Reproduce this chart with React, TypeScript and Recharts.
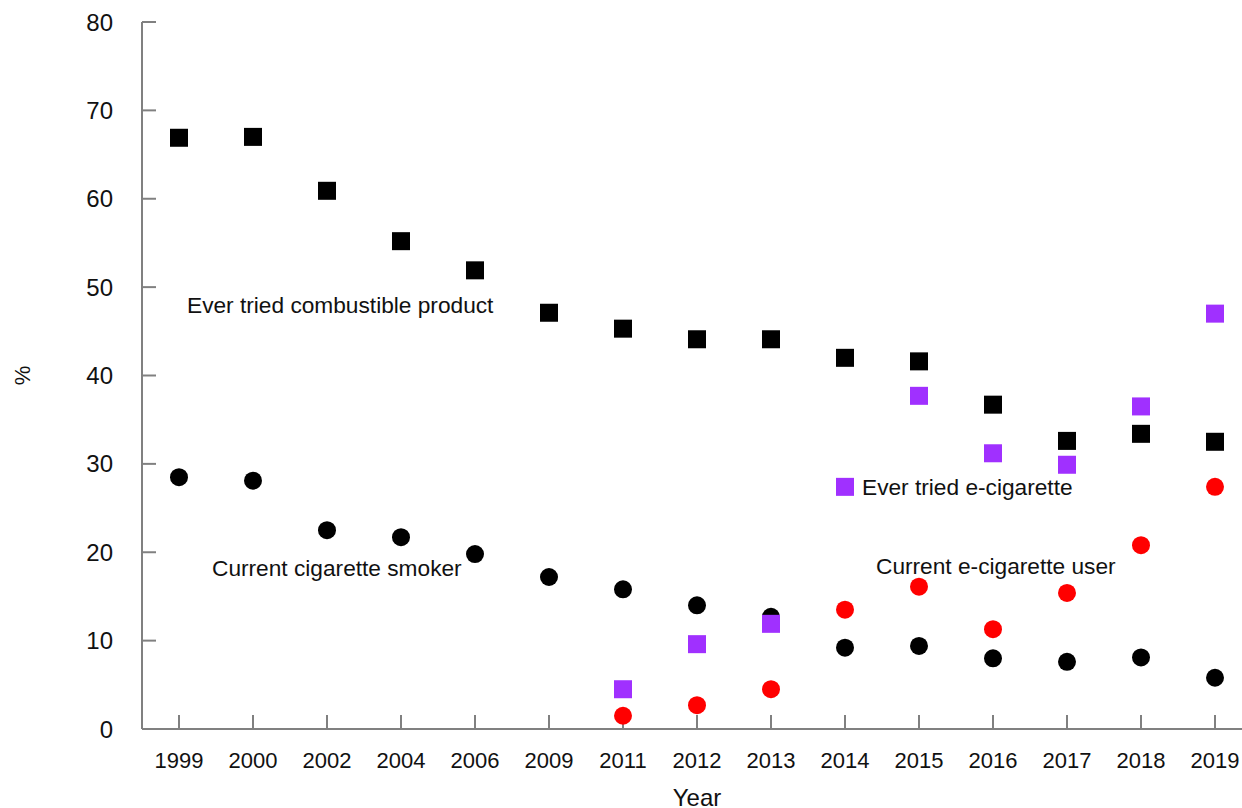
import React from 'react';
import { ComposedChart, Line, XAxis, YAxis, ReferenceDot } from 'recharts';

const years = ['1999', '2000', '2002', '2004', '2006', '2009', '2011', '2012', '2013', '2014', '2015', '2016', '2017', '2018', '2019'];
const everCombustible = [66.9, 67.0, 60.9, 55.2, 51.9, 47.1, 45.3, 44.1, 44.1, 42.0, 41.6, 36.7, 32.6, 33.4, 32.5];
const currentCigarette = [28.5, 28.1, 22.5, 21.7, 19.8, 17.2, 15.8, 14.0, 12.7, 9.2, 9.4, 8.0, 7.6, 8.1, 5.8];
const everEcig = [null, null, null, null, null, null, 4.5, 9.6, 11.9, 27.4, 37.7, 31.2, 29.9, 36.5, 47.0];
const currentEcig = [null, null, null, null, null, null, 1.5, 2.7, 4.5, 13.5, 16.1, 11.3, 15.4, 20.8, 27.4];
const yTicks = [0, 10, 20, 30, 40, 50, 60, 70, 80];

const data = years.map((year, i) => ({
  year,
  everCombustible: everCombustible[i],
  currentCigarette: currentCigarette[i],
  everEcig: everEcig[i],
  currentEcig: currentEcig[i],
}));

const FONT = 'Arial, "Liberation Sans", sans-serif';
const AXIS = '#808080';

const makeSquare = (color: string, prefix: string) => (props: any) => {
  const { cx, cy, index } = props;
  if (cx == null || cy == null || isNaN(cx) || isNaN(cy)) return <g key={`${prefix}-${index}`} />;
  const s = 18;
  return <rect key={`${prefix}-${index}`} x={cx - s / 2} y={cy - s / 2} width={s} height={s} fill={color} />;
};

const makeCircle = (color: string, prefix: string) => (props: any) => {
  const { cx, cy, index } = props;
  if (cx == null || cy == null || isNaN(cx) || isNaN(cy)) return <g key={`${prefix}-${index}`} />;
  return <circle key={`${prefix}-${index}`} cx={cx} cy={cy} r={9} fill={color} />;
};

const labelStyle = { fontSize: 22.7, fontFamily: FONT, fill: '#111' };

export default function App() {
  return (
    <div style={{ position: 'absolute', left: 0, top: 0, width: 1242, height: 808, overflow: 'hidden', background: '#fff' }}>
      <ComposedChart width={1260} height={830} data={data} margin={{ top: 22, right: 8, left: 0, bottom: 51 }}>
        <XAxis
          dataKey="year"
          type="category"
          padding={{ left: 37, right: 37 }}
          axisLine={{ stroke: AXIS, strokeWidth: 2 }}
          tickLine={{ stroke: AXIS, strokeWidth: 2 }}
          tickSize={-14}
          tickMargin={37}
          height={50}
          interval={0}
          tick={{ fontSize: 22, fontFamily: FONT, fill: '#111' }}
          label={{ value: 'Year', position: 'bottom', offset: 10, style: { fontSize: 24, fontFamily: FONT, fill: '#111' } }}
        />
        <YAxis
          type="number"
          domain={[0, 80]}
          ticks={yTicks}
          width={142}
          axisLine={{ stroke: AXIS, strokeWidth: 2 }}
          tickLine={{ stroke: AXIS, strokeWidth: 2 }}
          tickSize={-14}
          tickMargin={43}
          interval={0}
          tick={{ fontSize: 24, fontFamily: FONT, fill: '#111' }}
          label={{
            value: '%',
            content: (p: any) => {
              const vb = p.viewBox || {};
              const x = (vb.x || 0) + 22;
              const y = (vb.y || 0) + (vb.height || 0) / 2;
              return (
                <text x={x} y={y} transform={`rotate(-90 ${x} ${y})`} textAnchor="middle" dominantBaseline="central" fontSize={22} fontFamily={FONT} fill="#111">
                  %
                </text>
              );
            },
          }}
        />
        <Line dataKey="everCombustible" stroke="none" dot={makeSquare('#000000', 'ec')} activeDot={false} isAnimationActive={false} legendType="none" />
        <Line dataKey="currentCigarette" stroke="none" dot={makeCircle('#000000', 'cc')} activeDot={false} isAnimationActive={false} legendType="none" />
        <Line dataKey="everEcig" stroke="none" dot={makeSquare('#A030FF', 'ee')} activeDot={false} isAnimationActive={false} legendType="none" />
        <Line dataKey="currentEcig" stroke="none" dot={makeCircle('#FF0000', 'ce')} activeDot={false} isAnimationActive={false} legendType="none" />
        <ReferenceDot x="1999" y={48.0} r={0} stroke="none" label={{ value: 'Ever tried combustible product', position: 'right', offset: 8, style: labelStyle }} />
        <ReferenceDot x="1999" y={18.2} r={0} stroke="none" label={{ value: 'Current cigarette smoker', position: 'right', offset: 33, style: labelStyle }} />
        <ReferenceDot x="2014" y={27.4} r={0} stroke="none" label={{ value: 'Ever tried e-cigarette', position: 'right', offset: 17, style: labelStyle }} />
        <ReferenceDot x="2014" y={18.4} r={0} stroke="none" label={{ value: 'Current e-cigarette user', position: 'right', offset: 31, style: labelStyle }} />
      </ComposedChart>
    </div>
  );
}
